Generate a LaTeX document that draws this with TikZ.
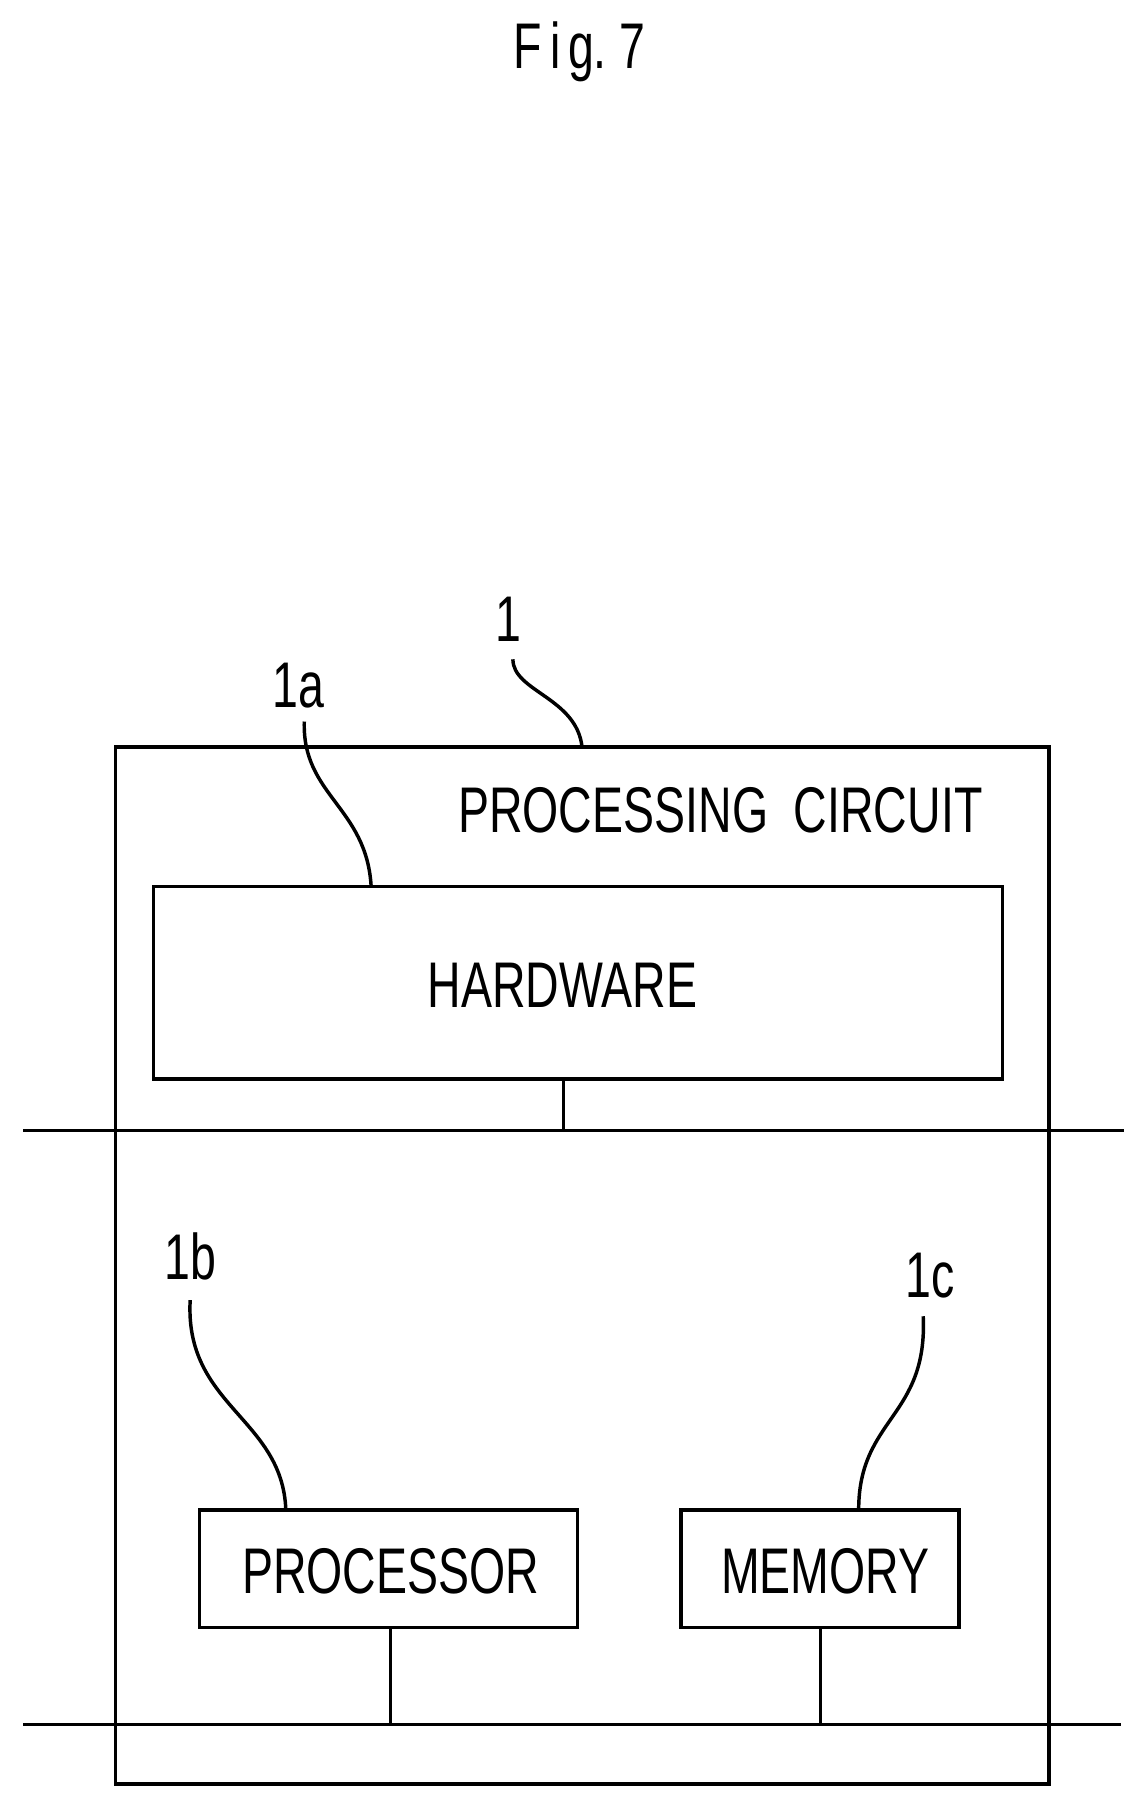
\documentclass[tikz,border=0pt]{standalone}
\usepackage{fontspec}
\setmainfont{Liberation Sans}
\newcommand{\ct}[1]{\scalebox{0.72}[1]{#1}}
\begin{document}
\begin{tikzpicture}[x=0.5pt,y=-0.5pt,line width=1.5pt,
  lbl/.style={inner sep=0pt,font=\fontsize{28}{30}\selectfont},
  box/.style={draw,line width=1.5pt}]
\useasboundingbox (0,0) rectangle (995,1573);
\node[lbl] (title) at (503,45) {\ct{F\,i\,g.\ 7}};
\draw[box] (100,648) rectangle (910,1548);
\coordinate (outtop) at (505,648);
\node[lbl] (pc) at (625,703) {\ct{PROCESSING\ \ CIRCUIT}};
\node[box,minimum width=368.5pt,minimum height=83.5pt,inner sep=0pt] (hw) at (501.5,852.5) {};
\node[lbl] (hwt) at (488,855) {\ct{HARDWARE}};
\node[box,minimum width=164pt,minimum height=51pt,inner sep=0pt] (proc) at (337,1361) {};
\node[lbl] (proct) at (339,1363) {\ct{PROCESSOR}};
\node[box,minimum width=120.5pt,minimum height=51pt,inner sep=0pt] (mem) at (711.5,1361) {};
\node[lbl] (memt) at (716,1363) {\ct{MEMORY}};
\coordinate (b1l) at (20,981); \coordinate (b1r) at (975,981);
\coordinate (b2l) at (20,1496); \coordinate (b2r) at (973,1496);
\draw (b1l) -- (b1r);
\draw (b2l) -- (b2r);
\draw (489,936) -- (489,981);
\draw (339,1412) -- (339,1496);
\draw (712,1412) -- (712,1496);
\node[lbl] (l1) at (441,537) {\ct{1}};
\node[lbl] (l1a) at (259,595) {\ct{1a}};
\node[lbl] (l1b) at (165,1090) {\ct{1b}};
\node[lbl] (l1c) at (807,1107) {\ct{1c}};
\draw (445,572) .. controls (445,600) and (500,605) .. (505,648);
\draw (264,626) .. controls (262,690) and (318,700) .. (322,769);
\draw (165,1128) .. controls (160,1220) and (245,1230) .. (248,1310);
\draw (801,1142) .. controls (805,1230) and (745,1230) .. (745,1310);
\end{tikzpicture}
\end{document}
